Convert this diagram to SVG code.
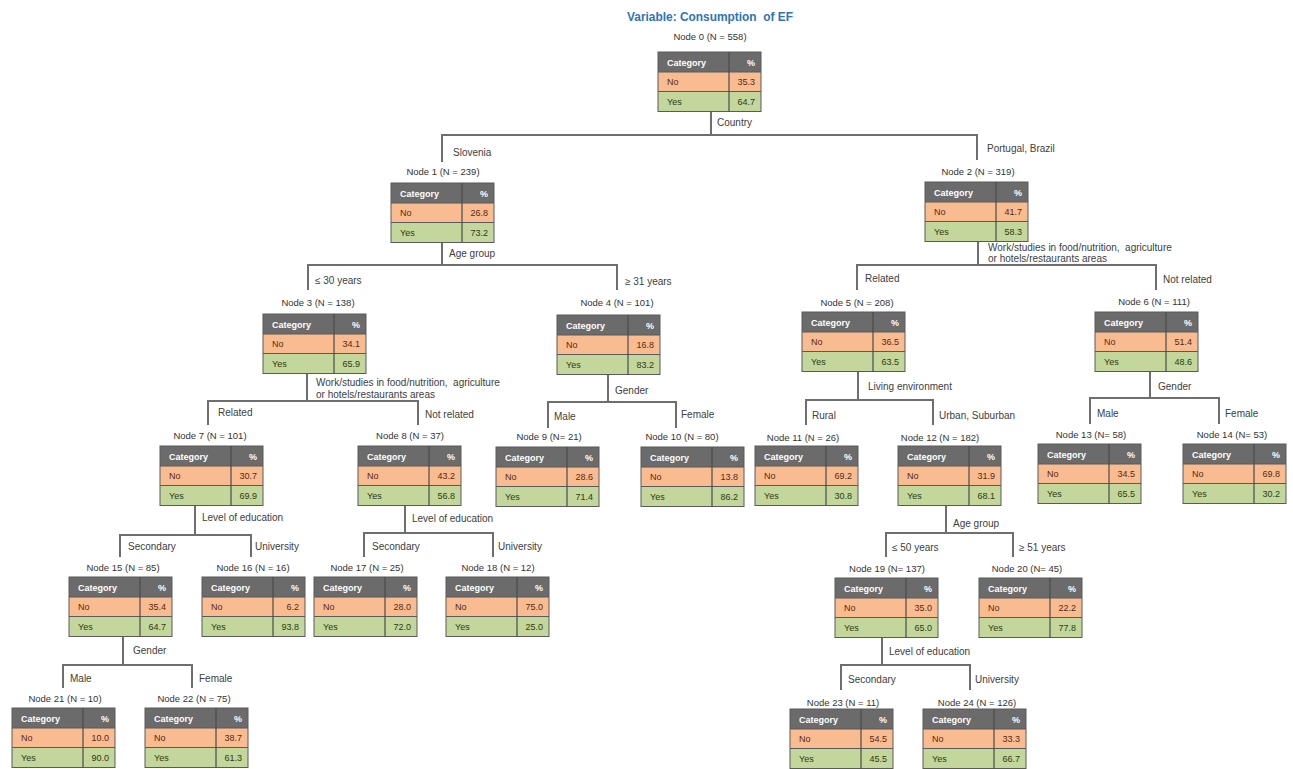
<svg xmlns="http://www.w3.org/2000/svg" xmlns:xlink="http://www.w3.org/1999/xlink" width="1293" height="769" viewBox="0 0 1293 769">
<style>
text{font-family:"Liberation Sans",Arial,sans-serif}
.lbl{font-size:10px;fill:#404040}
.ttl{font-size:9.5px;fill:#333;text-anchor:middle}
.hd{font-size:9px;font-weight:bold;fill:#fff}
.cell{font-size:9px}
.no{fill:#5a2812}
.yes{fill:#2e3a14}
.val{text-anchor:end}
.conn line{stroke:#6e6e6e;stroke-width:2}
</style>
<defs>
<g id="tbl">
<rect x="0" y="0" width="103" height="20" fill="#6b6b6b"/>
<rect x="0" y="20" width="103" height="19.5" fill="#f9bc91"/>
<rect x="0" y="39.5" width="103" height="20" fill="#c3d69b"/>
<rect x="0" y="0" width="103" height="59.5" fill="none" stroke="#5a5a5a" stroke-width="1"/>
<line x1="0" y1="20" x2="103" y2="20" stroke="#5a5a5a" stroke-width="1"/>
<line x1="0" y1="39.5" x2="103" y2="39.5" stroke="#5a5a5a" stroke-width="1"/>
<line x1="71" y1="0" x2="71" y2="59.5" stroke="#4a4a4a" stroke-width="1.2"/>
<text class="hd" x="9" y="13.5">Category</text>
<text class="hd val" x="97" y="13.5">%</text>
<text class="cell no" x="9" y="33">No</text>
<text class="cell yes" x="9" y="53">Yes</text>
</g>
</defs>
<rect width="1293" height="769" fill="#fff"/>
<text x="710" y="21" text-anchor="middle" font-size="13.5" font-weight="bold" fill="#2e74b5" textLength="166" lengthAdjust="spacingAndGlyphs" xml:space="preserve">Variable: Consumption  of EF</text>

<g id="connectors" class="conn">
<line x1="711" y1="111" x2="711" y2="135"/>
<line x1="441" y1="135" x2="978" y2="135"/>
<line x1="442" y1="134" x2="442" y2="162"/>
<line x1="977" y1="134" x2="977" y2="160"/>

<line x1="442" y1="242" x2="442" y2="265"/>
<line x1="307" y1="265" x2="618" y2="265"/>
<line x1="308" y1="264" x2="308" y2="290"/>
<line x1="617" y1="264" x2="617" y2="290"/>

<line x1="978" y1="240" x2="978" y2="265"/>
<line x1="856" y1="265" x2="1157" y2="265"/>
<line x1="857" y1="264" x2="857" y2="290"/>
<line x1="1156" y1="264" x2="1156" y2="290"/>

<line x1="307" y1="374" x2="307" y2="401"/>
<line x1="207" y1="401" x2="419" y2="401"/>
<line x1="208" y1="400" x2="208" y2="425"/>
<line x1="418" y1="400" x2="418" y2="425"/>

<line x1="608" y1="374" x2="608" y2="402"/>
<line x1="547" y1="402" x2="677" y2="402"/>
<line x1="548" y1="401" x2="548" y2="428"/>
<line x1="676" y1="401" x2="676" y2="428"/>

<line x1="858" y1="371" x2="858" y2="400"/>
<line x1="805" y1="400" x2="934" y2="400"/>
<line x1="806" y1="399" x2="806" y2="425"/>
<line x1="933" y1="399" x2="933" y2="425"/>

<line x1="1150" y1="371" x2="1150" y2="398"/>
<line x1="1089" y1="398" x2="1220" y2="398"/>
<line x1="1090" y1="397" x2="1090" y2="424"/>
<line x1="1219" y1="397" x2="1219" y2="424"/>

<line x1="195" y1="505" x2="195" y2="535"/>
<line x1="119" y1="535" x2="252" y2="535"/>
<line x1="120" y1="534" x2="120" y2="557"/>
<line x1="251" y1="534" x2="251" y2="557"/>

<line x1="405" y1="505" x2="405" y2="533"/>
<line x1="363" y1="533" x2="494" y2="533"/>
<line x1="364" y1="532" x2="364" y2="557"/>
<line x1="493" y1="532" x2="493" y2="557"/>

<line x1="946" y1="505" x2="946" y2="533"/>
<line x1="885" y1="533" x2="1014" y2="533"/>
<line x1="886" y1="532" x2="886" y2="557"/>
<line x1="1013" y1="532" x2="1013" y2="557"/>

<line x1="123" y1="637" x2="123" y2="665"/>
<line x1="62" y1="665" x2="193" y2="665"/>
<line x1="63" y1="664" x2="63" y2="688"/>
<line x1="192" y1="664" x2="192" y2="688"/>

<line x1="882" y1="637" x2="882" y2="665"/>
<line x1="840" y1="665" x2="971" y2="665"/>
<line x1="841" y1="664" x2="841" y2="690"/>
<line x1="970" y1="664" x2="970" y2="690"/>
</g>

<g id="connector-labels">
<text class="lbl" x="717" y="126">Country</text>
<text class="lbl" x="453" y="156">Slovenia</text>
<text class="lbl" x="987" y="152">Portugal, Brazil</text>
<text class="lbl" x="449" y="257">Age group</text>
<text class="lbl" x="315" y="284">≤ 30 years</text>
<text class="lbl" x="625" y="285">≥ 31 years</text>
<text class="lbl" x="988" y="251" xml:space="preserve">Work/studies in food/nutrition,  agriculture</text>
<text class="lbl" x="988" y="262">or hotels/restaurants areas</text>
<text class="lbl" x="865" y="282">Related</text>
<text class="lbl" x="1163" y="283">Not related</text>
<text class="lbl" x="316" y="386" xml:space="preserve">Work/studies in food/nutrition,  agriculture</text>
<text class="lbl" x="316" y="398">or hotels/restaurants areas</text>
<text class="lbl" x="218" y="416">Related</text>
<text class="lbl" x="425" y="418">Not related</text>
<text class="lbl" x="615" y="394">Gender</text>
<text class="lbl" x="554" y="420">Male</text>
<text class="lbl" x="681" y="418">Female</text>
<text class="lbl" x="868" y="390">Living environment</text>
<text class="lbl" x="812" y="419">Rural</text>
<text class="lbl" x="939" y="419">Urban, Suburban</text>
<text class="lbl" x="1158" y="390">Gender</text>
<text class="lbl" x="1097" y="417">Male</text>
<text class="lbl" x="1225" y="417">Female</text>
<text class="lbl" x="202" y="521">Level of education</text>
<text class="lbl" x="128" y="550">Secondary</text>
<text class="lbl" x="255" y="550">University</text>
<text class="lbl" x="412" y="522">Level of education</text>
<text class="lbl" x="372" y="550">Secondary</text>
<text class="lbl" x="498" y="550">University</text>
<text class="lbl" x="953" y="527">Age group</text>
<text class="lbl" x="892" y="551">≤ 50 years</text>
<text class="lbl" x="1019" y="551">≥ 51 years</text>
<text class="lbl" x="133" y="654">Gender</text>
<text class="lbl" x="70" y="682">Male</text>
<text class="lbl" x="199" y="682">Female</text>
<text class="lbl" x="889" y="655">Level of education</text>
<text class="lbl" x="848" y="683">Secondary</text>
<text class="lbl" x="975" y="683">University</text>
</g>

<g id="node0"><text class="ttl" x="710" y="40">Node 0 (N = 558)</text><use xlink:href="#tbl" x="658" y="52"/><text class="cell no val" x="755" y="85">35.3</text><text class="cell yes val" x="755" y="105">64.7</text></g>
<g id="node1"><text class="ttl" x="443" y="175">Node 1 (N = 239)</text><use xlink:href="#tbl" x="391" y="183"/><text class="cell no val" x="488" y="216">26.8</text><text class="cell yes val" x="488" y="236">73.2</text></g>
<g id="node2"><text class="ttl" x="978" y="175">Node 2 (N = 319)</text><use xlink:href="#tbl" x="925" y="182"/><text class="cell no val" x="1022" y="215">41.7</text><text class="cell yes val" x="1022" y="235">58.3</text></g>
<g id="node3"><text class="ttl" x="318" y="306">Node 3 (N = 138)</text><use xlink:href="#tbl" x="263" y="314"/><text class="cell no val" x="360" y="347">34.1</text><text class="cell yes val" x="360" y="367">65.9</text></g>
<g id="node4"><text class="ttl" x="617" y="306">Node 4 (N = 101)</text><use xlink:href="#tbl" x="557" y="315"/><text class="cell no val" x="654" y="348">16.8</text><text class="cell yes val" x="654" y="368">83.2</text></g>
<g id="node5"><text class="ttl" x="857" y="306">Node 5 (N = 208)</text><use xlink:href="#tbl" x="802" y="312"/><text class="cell no val" x="899" y="345">36.5</text><text class="cell yes val" x="899" y="365">63.5</text></g>
<g id="node6"><text class="ttl" x="1154" y="305">Node 6 (N = 111)</text><use xlink:href="#tbl" x="1095" y="312"/><text class="cell no val" x="1192" y="345">51.4</text><text class="cell yes val" x="1192" y="365">48.6</text></g>
<g id="node7"><text class="ttl" x="210" y="439">Node 7 (N = 101)</text><use xlink:href="#tbl" x="160" y="446"/><text class="cell no val" x="257" y="479">30.7</text><text class="cell yes val" x="257" y="499">69.9</text></g>
<g id="node8"><text class="ttl" x="410" y="439">Node 8 (N = 37)</text><use xlink:href="#tbl" x="358" y="446"/><text class="cell no val" x="455" y="479">43.2</text><text class="cell yes val" x="455" y="499">56.8</text></g>
<g id="node9"><text class="ttl" x="549" y="440">Node 9 (N= 21)</text><use xlink:href="#tbl" x="496" y="447"/><text class="cell no val" x="593" y="480">28.6</text><text class="cell yes val" x="593" y="500">71.4</text></g>
<g id="node10"><text class="ttl" x="682" y="440">Node 10 (N = 80)</text><use xlink:href="#tbl" x="641" y="447"/><text class="cell no val" x="738" y="480">13.8</text><text class="cell yes val" x="738" y="500">86.2</text></g>
<g id="node11"><text class="ttl" x="803" y="441">Node 11 (N = 26)</text><use xlink:href="#tbl" x="755" y="446"/><text class="cell no val" x="852" y="479">69.2</text><text class="cell yes val" x="852" y="499">30.8</text></g>
<g id="node12"><text class="ttl" x="940" y="441">Node 12 (N = 182)</text><use xlink:href="#tbl" x="898" y="446"/><text class="cell no val" x="995" y="479">31.9</text><text class="cell yes val" x="995" y="499">68.1</text></g>
<g id="node13"><text class="ttl" x="1091" y="438">Node 13 (N= 58)</text><use xlink:href="#tbl" x="1038" y="444"/><text class="cell no val" x="1135" y="477">34.5</text><text class="cell yes val" x="1135" y="497">65.5</text></g>
<g id="node14"><text class="ttl" x="1232" y="438">Node 14 (N= 53)</text><use xlink:href="#tbl" x="1183" y="444"/><text class="cell no val" x="1280" y="477">69.8</text><text class="cell yes val" x="1280" y="497">30.2</text></g>
<g id="node15"><text class="ttl" x="123" y="571">Node 15 (N = 85)</text><use xlink:href="#tbl" x="69" y="577"/><text class="cell no val" x="166" y="610">35.4</text><text class="cell yes val" x="166" y="630">64.7</text></g>
<g id="node16"><text class="ttl" x="253" y="571">Node 16 (N = 16)</text><use xlink:href="#tbl" x="202" y="577"/><text class="cell no val" x="299" y="610">6.2</text><text class="cell yes val" x="299" y="630">93.8</text></g>
<g id="node17"><text class="ttl" x="367" y="571">Node 17 (N = 25)</text><use xlink:href="#tbl" x="314" y="577"/><text class="cell no val" x="411" y="610">28.0</text><text class="cell yes val" x="411" y="630">72.0</text></g>
<g id="node18"><text class="ttl" x="498" y="571">Node 18 (N = 12)</text><use xlink:href="#tbl" x="446" y="577"/><text class="cell no val" x="543" y="610">75.0</text><text class="cell yes val" x="543" y="630">25.0</text></g>
<g id="node19"><text class="ttl" x="887" y="572">Node 19 (N= 137)</text><use xlink:href="#tbl" x="835" y="578"/><text class="cell no val" x="932" y="611">35.0</text><text class="cell yes val" x="932" y="631">65.0</text></g>
<g id="node20"><text class="ttl" x="1027" y="572">Node 20 (N= 45)</text><use xlink:href="#tbl" x="979" y="578"/><text class="cell no val" x="1076" y="611">22.2</text><text class="cell yes val" x="1076" y="631">77.8</text></g>
<g id="node21"><text class="ttl" x="65" y="702">Node 21 (N = 10)</text><use xlink:href="#tbl" x="12" y="708"/><text class="cell no val" x="109" y="741">10.0</text><text class="cell yes val" x="109" y="761">90.0</text></g>
<g id="node22"><text class="ttl" x="194" y="702">Node 22 (N = 75)</text><use xlink:href="#tbl" x="145" y="708"/><text class="cell no val" x="242" y="741">38.7</text><text class="cell yes val" x="242" y="761">61.3</text></g>
<g id="node23"><text class="ttl" x="843" y="706">Node 23 (N = 11)</text><use xlink:href="#tbl" x="790" y="709"/><text class="cell no val" x="887" y="742">54.5</text><text class="cell yes val" x="887" y="762">45.5</text></g>
<g id="node24"><text class="ttl" x="977" y="706">Node 24 (N = 126)</text><use xlink:href="#tbl" x="923" y="709"/><text class="cell no val" x="1020" y="742">33.3</text><text class="cell yes val" x="1020" y="762">66.7</text></g>
</svg>
